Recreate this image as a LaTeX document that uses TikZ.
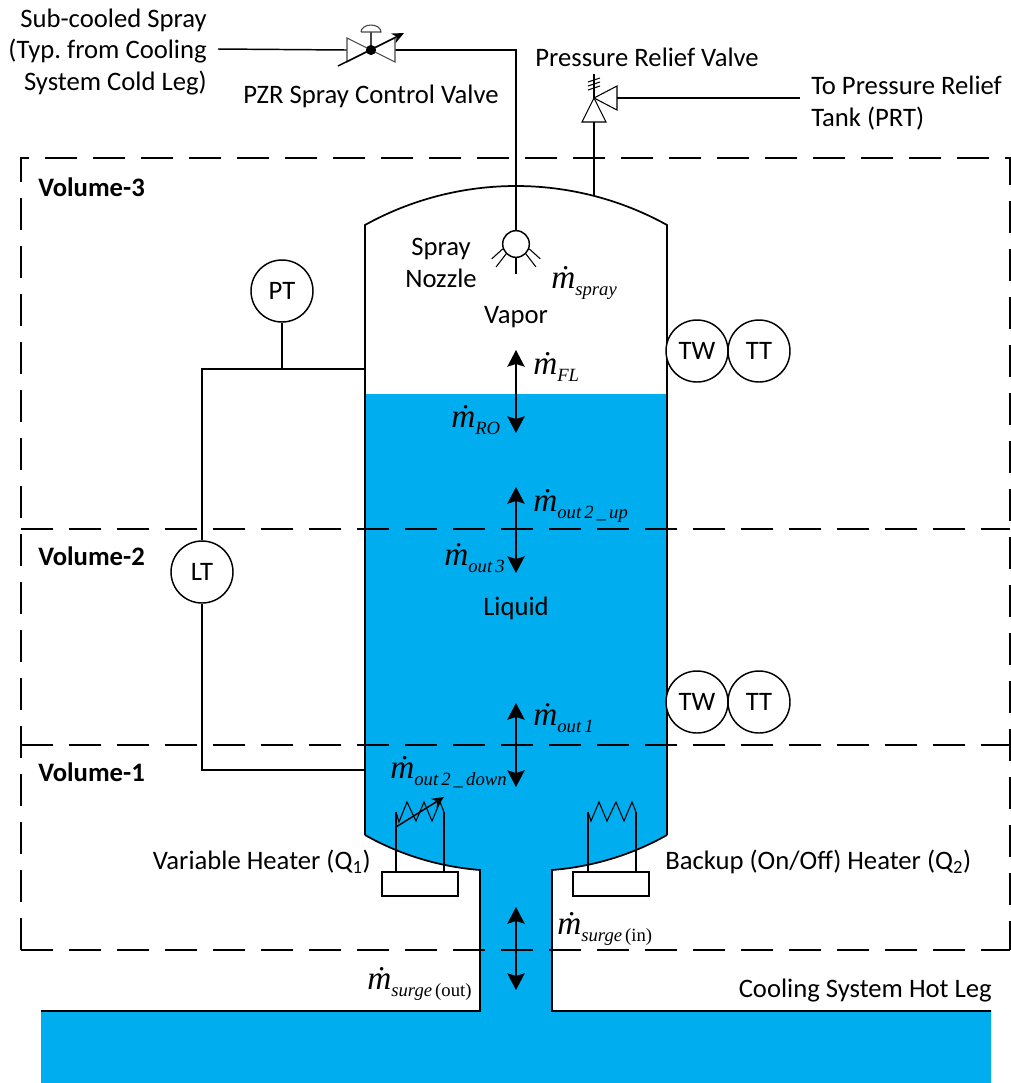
\documentclass[tikz,border=0pt]{standalone}
\usepackage{fontspec}
\setmainfont{Carlito}
\newfontfamily\flowfont{Liberation Serif}
\usetikzlibrary{arrows.meta,positioning,calc}
\definecolor{cLiquid}{RGB}{0,174,239}
\definecolor{cValve}{RGB}{70,70,70}
\newcommand{\mflow}[1]{{\flowfont\fontsize{25}{25}\selectfont\itshape ṁ\raisebox{-0.45ex}{\fontsize{14}{14}\selectfont #1}}}
\tikzset{
  lbl/.style={font=\fontsize{20}{23.4}\selectfont, align=center, inner sep=0pt},
  vol/.style={font=\fontsize{20}{23.4}\selectfont\bfseries, anchor=west, inner sep=0pt},
  flw/.style={anchor=west, inner sep=0pt},
  inst/.style={circle, draw, fill=white, line width=1.1pt, minimum size=46.5pt, inner sep=0pt,
               font=\fontsize{20}{23}\selectfont},
  pipe/.style={draw, line width=1.1pt},
  wall/.style={draw, line width=1.3pt},
  thin/.style={draw, line width=0.8pt},
  ar/.style={{Stealth[length=12.5pt,width=13pt,inset=2pt]}-{Stealth[length=12.5pt,width=13pt,inset=2pt]}, line width=1.1pt},
  bound/.style={draw, line width=1.1pt, dash pattern=on 24pt off 12pt},
}
\begin{document}
\begin{tikzpicture}[x=0.75pt, y=-0.75pt]
\useasboundingbox (0,0) rectangle (1011,1083);
% liquid
\fill[cLiquid] (365,394) -- (667,394) -- (667,835) .. controls (630,856) and (590,867) .. (552,870)
  -- (552,1011) -- (991,1011) -- (991,1083) -- (41,1083) -- (41,1011) -- (480,1011) -- (480,870)
  .. controls (442,867) and (402,856) .. (365,835) -- cycle;
% vessel
\draw[wall] (365,835) -- (365,225) .. controls (410,200) and (462,186) .. (516,186)
  .. controls (570,186) and (622,200) .. (667,225) -- (667,835);
\draw[wall] (365,835) .. controls (402,856) and (442,867) .. (480,870) -- (480,1011) -- (41,1011);
\draw[wall] (667,835) .. controls (630,856) and (590,867) .. (552,870) -- (552,1011) -- (991,1011);
% volumes
\draw[bound] (21,950) -- (21,158) -- (1010,158) -- (1010,950);
\draw[bound] (21,950) -- (1010,950);
\draw[bound] (21,529) -- (1010,529);
\draw[bound] (21,745) -- (1010,745);
\node[vol] (v3) at (38,187) {Volume-3};
\node[vol] (v2) at (38,556) {Volume-2};
\node[vol] (v1) at (38,772) {Volume-1};
% spray line
\node[lbl, align=right, anchor=east] (sprlbl) at (207,52) {Sub-cooled Spray\\(Typ.\ from Cooling\\System Cold Leg)};
\node[lbl] (vlbl) at (371,96) {PZR Spray Control Valve};
\coordinate (spin) at (218,49);
\coordinate (vc) at (371,50);
\coordinate (vl) at (347,50);
\coordinate (vr) at (395,50);
\node[circle, draw, line width=1.1pt, minimum size=20pt, inner sep=0pt] (noz) at (516,244) {};
\draw[pipe] (spin) -- (vl);
\draw[pipe] (vr) -| (noz);
\draw[thin, draw=cValve, fill=white] (vc) -- (347,38) -- (347,62) -- cycle;
\draw[thin, draw=cValve, fill=white] (vc) -- (395,38) -- (395,62) -- cycle;
\draw[thin, draw=cValve] (vc) -- (371,32);
\draw[thin, draw=cValve] (361,32) -- (381,32) arc (0:-180:10 and 7);
\draw[-{Stealth[length=9pt,width=8pt]}, line width=1.1pt] (338,66) -- (404,33);
\fill (vc) circle (3.8pt);
\draw[thin] (noz.south) -- ++(0,16);
\draw[thin] (noz.-135) -- ++(-10,13);
\draw[thin] (noz.-45) -- ++(10,13);
\draw[thin] (noz.-160) -- ++(-11,10);
\draw[thin] (noz.-20) -- ++(11,10);
\node[lbl] (nozl) at (441,263) {Spray\\Nozzle};
% relief valve
\node[lbl] (rvl) at (647,57) {Pressure Relief Valve};
\node[lbl, align=left, anchor=west] (prt) at (811,103) {To Pressure Relief\\Tank (PRT)};
\coordinate (rc) at (594,98);
\coordinate (rb) at (594,122);
\coordinate (rr) at (617,98);
\coordinate (rtop) at (594,195);
\draw[thin, fill=white] (rc) -- (582,122) -- (606,122) -- cycle;
\draw[thin, fill=white] (rc) -- (617,86) -- (617,110) -- cycle;
\draw[thin] (rc) -- (594,74);
\foreach \y in {80,84,88} \draw[thin] (588,\y+2) -- (600,\y-2);
\draw[pipe] (rb) -- (rtop);
\draw[pipe] (rr) -- (800,98);
% instruments
\node[inst] (pt) at (282,291) {PT};
\node[inst] (lt) at (202,572) {LT};
\node[inst] (tw1) at (697,351) {TW};
\node[inst] (tt1) at (759,351) {TT};
\node[inst] (tw2) at (697,702) {TW};
\node[inst] (tt2) at (759,702) {TT};
\coordinate (tap1) at (365,369);
\coordinate (tap2) at (365,770);
\draw[pipe] (pt) -- (pt |- tap1);
\draw[pipe] (tap1) -| (lt);
\draw[pipe] (tap2) -| (lt);
% flow arrows
\coordinate (a1) at (516,350); \coordinate (b1) at (516,433);
\coordinate (a2) at (516,487); \coordinate (b2) at (516,573);
\coordinate (a3) at (516,703); \coordinate (b3) at (516,787);
\coordinate (a4) at (516,907); \coordinate (b4) at (516,990);
\foreach \i in {1,2,3,4} \draw[ar] (a\i) -- (b\i);
\node[flw] (ms) at (551,283) {\mflow{spray}};
\node[flw] (mfl) at (533,367) {\mflow{FL}};
\node[flw] (mro) at (451,420) {\mflow{RO}};
\node[flw] (mup) at (533,506) {\mflow{out\,2\,\_\,up}};
\node[flw] (mo3) at (444,558) {\mflow{out\,3}};
\node[flw] (mo1) at (533,718) {\mflow{out\,1}};
\node[flw] (mdn) at (390,772) {\mflow{out\,2\,\_\,down}};
\node[flw] (msi) at (557,929) {\mflow{surge\,{\upshape(in)}}};
\node[flw] (mso) at (367,984) {\mflow{surge\,{\upshape(out)}}};
\node[lbl] (vap) at (516,317) {Vapor};
\node[lbl] (liq) at (516,608) {Liquid};
% heaters
\node[draw, fill=white, line width=1.1pt, minimum width=57pt, minimum height=18pt, inner sep=0pt] (hl) at (420,884) {};
\node[draw, fill=white, line width=1.1pt, minimum width=57pt, minimum height=18pt, inner sep=0pt] (hr) at (611,884) {};
\coordinate (hl1) at (396,812); \coordinate (hl2) at (444,812);
\coordinate (hr1) at (588,812); \coordinate (hr2) at (636,812);
\draw[pipe] (hl1) -- (hl1 |- hl.north);
\draw[pipe] (hl2) -- (hl2 |- hl.north);
\draw[pipe] (hr1) -- (hr1 |- hr.north);
\draw[pipe] (hr2) -- (hr2 |- hr.north);
\draw[thin] (hl1) -- (399,822) -- (407,802) -- (416,821) -- (424,802) -- (432,821) -- (440,802) -- (hl2);
\draw[thin] (hr1) -- (591,821) -- (599,802) -- (607,821) -- (616,802) -- (624,821) -- (632,802) -- (hr2);
\draw[-{Stealth[length=9pt,width=8pt]}, line width=1.1pt] (396,827) -- (444,797);
\node[lbl, anchor=east] (hql) at (371,862) {Variable Heater (Q\textsubscript{1})};
\node[lbl, anchor=west] (hqr) at (665,862) {Backup (On/Off) Heater (Q\textsubscript{2})};
\node[lbl, anchor=east] (leg) at (992,991) {Cooling System Hot Leg};
\end{tikzpicture}
\end{document}
